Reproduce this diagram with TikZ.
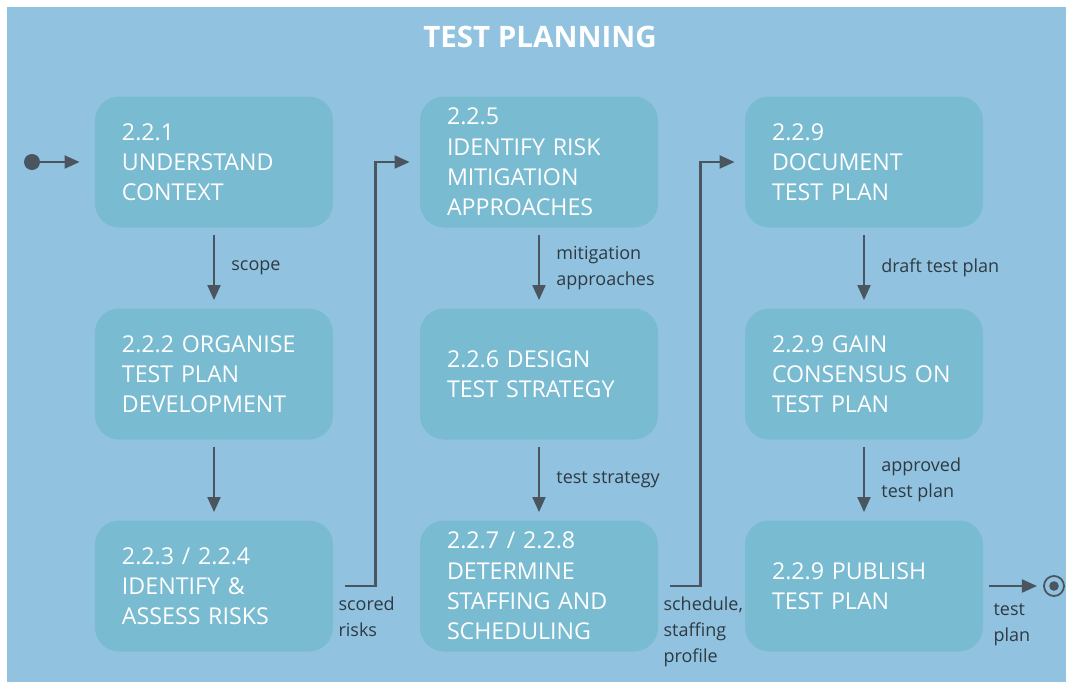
\documentclass[tikz,border=0pt]{standalone}
\usepackage{fontspec}
\setmainfont{Open Sans}
\usepackage{tikz}
\usetikzlibrary{positioning,arrows.meta}
\definecolor{TPBack}{HTML}{91C3E1}
\definecolor{TPBox}{HTML}{79BBD0}
\definecolor{TPLine}{HTML}{4A5560}
\definecolor{TPText}{HTML}{2E3A42}

\begin{document}
\begin{tikzpicture}[x=0.25mm,y=-0.25mm,
        stage/.style={fill=TPBox,rounded corners=6mm,minimum height=32.75mm,text width=46mm,inner xsep=6.75mm,align=left,text=white,font=\fontsize{16.5pt}{21.5pt}\selectfont},
        flow/.style={-{Triangle[length=3.8mm,width=3.2mm]},line width=0.7mm,color=TPLine},
        lbl/.style={text=TPText,font=\fontsize{12.8pt}{18.5pt}\selectfont,align=left,inner sep=0pt}]
        \useasboundingbox (0,0) rectangle (1073,689);
        \fill[white] (0,0) rectangle (1073,689);
        \fill[TPBack] (7,7) rectangle (1066,682);
        \node[text=white,font=\bfseries\fontsize{21pt}{24pt}\selectfont] (title) at (540,37) {TEST PLANNING};
        % first column
        \node[stage] (ctx) at (214,162) {2.2.1\\UNDERSTAND\\CONTEXT};
        \node[stage] (org) at (214,374) {2.2.2 ORGANISE\\TEST PLAN\\DEVELOPMENT};
        \node[stage] (risk) at (214,586) {2.2.3 / 2.2.4\\IDENTIFY \&\\ASSESS RISKS};
        % second column
        \node[stage] (mitig) at (539,162) {2.2.5\\IDENTIFY RISK\\MITIGATION\\APPROACHES};
        \node[stage] (strat) at (539,374) {2.2.6 DESIGN\\TEST STRATEGY};
        \node[stage] (staff) at (539,586) {2.2.7 / 2.2.8\\DETERMINE\\STAFFING AND\\SCHEDULING};
        % third column
        \node[stage] (doc) at (864,162) {2.2.9\\DOCUMENT\\TEST PLAN};
        \node[stage] (cons) at (864,374) {2.2.9 GAIN\\CONSENSUS ON\\TEST PLAN};
        \node[stage] (pub) at (864,586) {2.2.9 PUBLISH\\TEST PLAN};
        % start and end
        \node[circle,fill=TPLine,minimum size=4mm,inner sep=0pt] (init) at (32,162) {};
        \node[circle,draw=TPLine,line width=0.45mm,minimum size=5mm,inner sep=0pt] (fin) at (1054,586) {};
        \node[circle,fill=TPLine,minimum size=2.4mm,inner sep=0pt] (findot) at (fin) {};
        \draw[flow,shorten >=3.75mm] (init) -- (ctx);
        \foreach \a/\b/\t in {ctx/org/scope,mitig/strat/{mitigation\\approaches},strat/staff/{test strategy},doc/cons/{draft test plan},cons/pub/{approved\\test plan}}{\draw[flow,shorten <=1.75mm,shorten >=2mm] (\a) -- (\b) node[lbl,midway,right=4mm] {\t};}
        \draw[flow,shorten <=1.75mm,shorten >=2mm] (org) -- (risk);
        \draw[flow,shorten <=3mm,shorten >=2.5mm] (risk.east) -- ++(42,0) |- (mitig.west);
        \draw[flow,shorten <=3mm,shorten >=2.5mm] (staff.east) -- ++(42,0) |- (doc.west);
        \draw[flow,shorten <=1.5mm,shorten >=1.5mm] (pub) -- (fin);
        \node[lbl,below right=2.75mm and 1.25mm of risk.east] (scored) {scored\\risks};
        \node[lbl,below right=2.75mm and 1.25mm of staff.east] (sched) {schedule,\\staffing\\profile};
        \node[lbl,below right=4.25mm and 2.5mm of pub.east] (out) {test\\plan};
      \end{tikzpicture}
\end{document}
